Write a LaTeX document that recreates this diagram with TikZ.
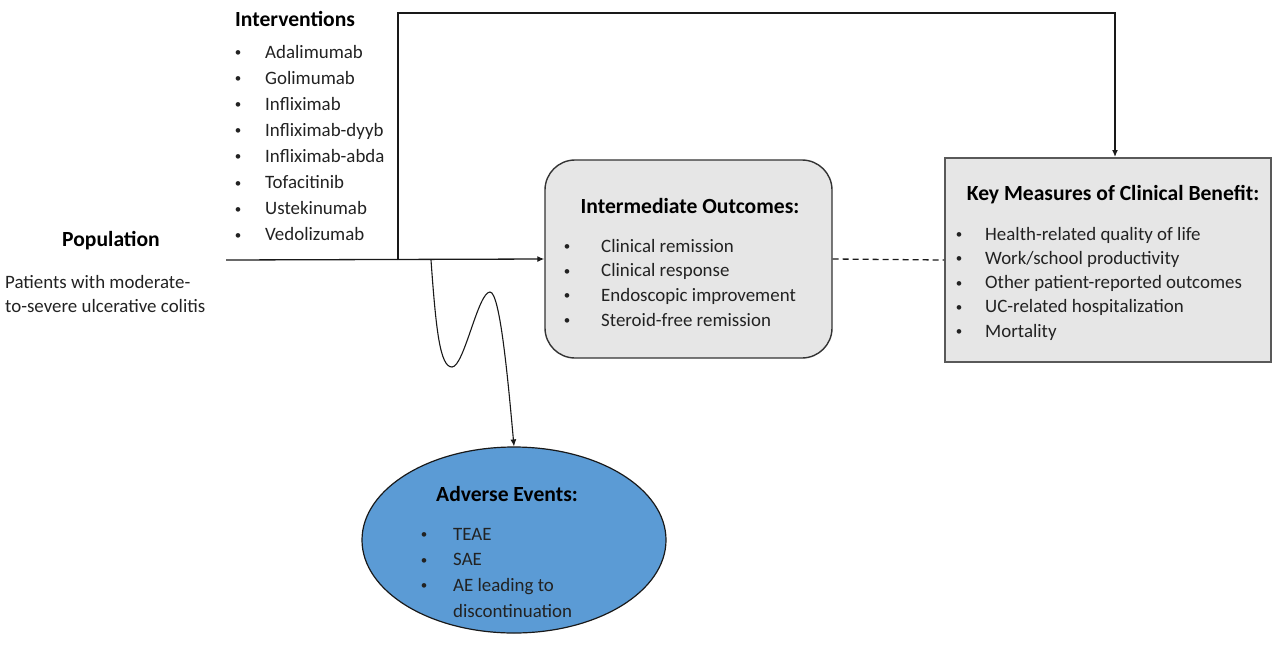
\documentclass[tikz,border=0pt]{standalone}
\usepackage{fontspec}
\setmainfont{Carlito}
\usetikzlibrary{arrows.meta,shapes.geometric}
\definecolor{boxgrey}{HTML}{E6E6E6}
\definecolor{aeblue}{HTML}{5B9BD5}
\definecolor{txtc}{HTML}{222222}
\begin{document}
\begin{tikzpicture}[x=1pt,y=-1pt,
 txt/.style={inner sep=0pt, anchor=base west, font=\fontsize{18.9}{22}\selectfont, text=txtc},
 bul/.style={inner sep=0pt, anchor=base, font=\fontsize{13}{15}\selectfont, text=txtc},
 head/.style={inner sep=0pt, anchor=base, font=\fontsize{21.6}{25}\selectfont\bfseries, text=black},
 conn/.style={line width=1.3pt, draw=black!90},
 tip/.style={-{Latex[length=7pt,width=6pt]}}
]
\useasboundingbox (0,0) rectangle (1273,648);

% boxes
\node[draw=black!80, line width=1.4pt, fill=boxgrey, rounded corners=30pt,
      minimum width=287pt, minimum height=198pt, inner sep=0pt] (inter) at (688.5,259) {};
\node[draw=black!65, line width=2pt, fill=boxgrey,
      minimum width=326pt, minimum height=204pt, inner sep=0pt] (key) at (1108,260) {};
\node[ellipse, draw=black!90, line width=1.2pt, fill=aeblue,
      minimum width=304pt, minimum height=186pt, inner sep=0pt] (ae) at (514,540) {};

% population
\node[head] (pophead) at (111,246) {Population};
\node[txt] (pop1) at (5,288) {Patients with moderate-};
\node[txt] (pop2) at (5,312) {to-severe ulcerative colitis};

% interventions
\node[head, anchor=base west] (ivhead) at (235,26) {Interventions};
\foreach \t [count=\i] in {Adalimumab,Golimumab,Infliximab,Infliximab-dyyb,Infliximab-abda,Tofacitinib,Ustekinumab,Vedolizumab}{
  \node[bul] (ivb\i) at (238,{56.5+26.1*(\i-1)}) {\textbullet};
  \node[txt] (iv\i) at (265,{58+26.1*(\i-1)}) {\t};
}

% intermediate outcomes
\node[head] (interhead) at (690,213) {Intermediate Outcomes:};
\foreach \t [count=\i] in {Clinical remission,Clinical response,Endoscopic improvement,Steroid-free remission}{
  \node[bul] (ib\i) at (567,{250.5+24.7*(\i-1)}) {\textbullet};
  \node[txt] (it\i) at (601,{252+24.7*(\i-1)}) {\t};
}

% key measures
\node[head] (keyhead) at (1113,200) {Key Measures of Clinical Benefit:};
\foreach \t [count=\i] in {Health-related quality of life,Work/school productivity,Other patient-reported outcomes,UC-related hospitalization,Mortality}{
  \node[bul] (kb\i) at (959,{238.5+24.3*(\i-1)}) {\textbullet};
  \node[txt] (kt\i) at (985,{240+24.3*(\i-1)}) {\t};
}

% adverse events
\node[head] (aehead) at (507,501) {Adverse Events:};
\foreach \t [count=\i] in {TEAE,SAE,AE leading to}{
  \node[bul] (ab\i) at (424,{538.5+25.5*(\i-1)}) {\textbullet};
  \node[txt] (at\i) at (453,{540+25.5*(\i-1)}) {\t};
}
\node[txt] (at4) at (453,617) {discontinuation};

% connectors
\coordinate (start) at (226,260);
\coordinate (split) at (398,260);
\coordinate (wavestart) at (431,260);
\coordinate (topc) at (1115,13);
\draw[conn, tip] (start) -- (inter.west);
\draw[conn, tip] (split) |- (topc) -- (topc |- key.north);
\draw[conn, dashed, dash pattern=on 6pt off 4pt] (inter.east) -- (key.west);
\draw[line width=1.1pt, draw=black!90, tip] (wavestart)
   .. controls (436,330) and (440,367) .. (452,367)
   .. controls (464,367) and (478,292) .. (490,292)
   .. controls (500,292) and (508,380) .. (ae.north);
\end{tikzpicture}
\end{document}
